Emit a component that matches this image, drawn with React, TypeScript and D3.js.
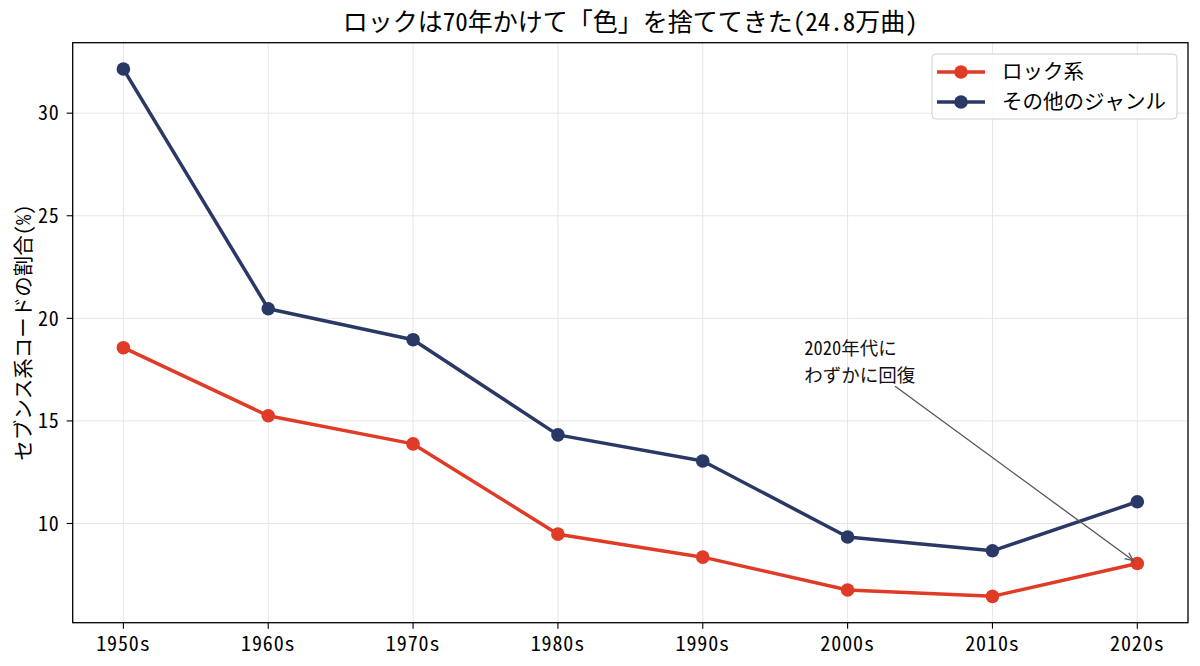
import { useEffect, useRef } from 'react';
import * as d3 from 'd3';

const decades = ['1950s', '1960s', '1970s', '1980s', '1990s', '2000s', '2010s', '2020s'];
const rockShare = [18.57, 15.25, 13.88, 9.48, 8.36, 6.76, 6.45, 8.05];
const otherShare = [32.15, 20.47, 18.96, 14.32, 13.05, 9.34, 8.67, 11.06];
const yTicks = [10, 15, 20, 25, 30];
const seriesNames = ['ロック系', 'その他のジャンル'];
const seriesColors = ['#e03b26', '#2a3866'];
const titleText = 'ロックは70年かけて「色」を捨ててきた(24.8万曲)';
const yLabel = 'セブンス系コードの割合(%)';
const noteLines = ['2020年代に', 'わずかに回復'];
// annotate: text at (4.7, 17), arrow to the rock value of the 2020s
const noteAt = { x: 4.7, y: 17 };
const noteTarget = { x: 7, y: rockShare[7] };

const FONT = "'Noto Sans Mono CJK JP', 'Noto Sans CJK JP', 'DejaVu Sans Mono', monospace";

export default function App() {
  const svgRef = useRef<SVGSVGElement>(null);

  useEffect(() => {
    if (!svgRef.current) return;
    const svg = d3.select(svgRef.current);
    svg.selectAll('*').remove();

    const width = 1200;
    const height = 666;
    const margin = { top: 42.7, right: 12, bottom: 43.3, left: 72.7 };
    const x0 = margin.left;
    const x1 = width - margin.right;
    const y0 = margin.top;
    const y1 = height - margin.bottom;

    svg.attr('width', width).attr('height', height);
    svg.append('rect').attr('width', width).attr('height', height).attr('fill', 'white');

    // matplotlib-like 5% margins
    const n = decades.length;
    const xScale = d3.scaleLinear().domain([-0.35, n - 1 + 0.35]).range([x0, x1]);
    const all = [...rockShare, ...otherShare];
    const lo = d3.min(all)!;
    const hi = d3.max(all)!;
    const pad = (hi - lo) * 0.05;
    const yScale = d3.scaleLinear().domain([lo - pad, hi + pad]).range([y1, y0]);

    // grid
    const grid = svg.append('g').attr('stroke', '#e6e6e6').attr('stroke-width', 1);
    decades.forEach((_, i) => {
      grid.append('line')
        .attr('x1', xScale(i)).attr('x2', xScale(i))
        .attr('y1', y0).attr('y2', y1);
    });
    yTicks.forEach(t => {
      grid.append('line')
        .attr('x1', x0).attr('x2', x1)
        .attr('y1', yScale(t)).attr('y2', yScale(t));
    });

    // series
    const line = d3.line<number>()
      .x((_, i) => xScale(i))
      .y(d => yScale(d));

    [rockShare, otherShare].forEach((vals, k) => {
      svg.append('path')
        .datum(vals)
        .attr('fill', 'none')
        .attr('stroke', seriesColors[k])
        .attr('stroke-width', 3.5)
        .attr('stroke-linejoin', 'round')
        .attr('d', line);
      svg.append('g')
        .selectAll('circle')
        .data(vals)
        .enter()
        .append('circle')
        .attr('cx', (_, i) => xScale(i))
        .attr('cy', d => yScale(d))
        .attr('r', 6.8)
        .attr('fill', seriesColors[k]);
    });

    // frame
    svg.append('rect')
      .attr('x', x0).attr('y', y0)
      .attr('width', x1 - x0).attr('height', y1 - y0)
      .attr('fill', 'none')
      .attr('stroke', '#000')
      .attr('stroke-width', 1.3);

    // x axis
    const xAxis = svg.append('g').attr('font-family', FONT).attr('font-size', 20).attr('letter-spacing', 0.9);
    decades.forEach((d, i) => {
      xAxis.append('line')
        .attr('x1', xScale(i)).attr('x2', xScale(i))
        .attr('y1', y1).attr('y2', y1 + 6)
        .attr('stroke', '#000').attr('stroke-width', 1.1);
      xAxis.append('text')
        .attr('x', xScale(i)).attr('y', y1 + 28)
        .attr('text-anchor', 'middle')
        .attr('fill', '#000')
        .text(d);
    });

    // y axis
    const yAxis = svg.append('g').attr('font-family', FONT).attr('font-size', 20).attr('letter-spacing', 0.9);
    yTicks.forEach(t => {
      yAxis.append('line')
        .attr('x1', x0 - 6).attr('x2', x0)
        .attr('y1', yScale(t)).attr('y2', yScale(t))
        .attr('stroke', '#000').attr('stroke-width', 1.1);
      yAxis.append('text')
        .attr('x', x0 - 13).attr('y', yScale(t))
        .attr('dy', '0.36em')
        .attr('text-anchor', 'end')
        .attr('fill', '#000')
        .text(t);
    });

    svg.append('text')
      .attr('transform', `translate(31,${(y0 + y1) / 2}) rotate(-90)`)
      .attr('text-anchor', 'middle')
      .attr('font-family', FONT)
      .attr('font-size', 20.5)
      .attr('fill', '#000')
      .text(yLabel);

    // title
    svg.append('text')
      .attr('x', (x0 + x1) / 2).attr('y', 31)
      .attr('text-anchor', 'middle')
      .attr('font-family', FONT)
      .attr('font-size', 25)
      .attr('fill', '#000')
      .text(titleText);

    // annotation, one text per line
    const lh = 27;
    const bx = xScale(noteAt.x);
    const by = yScale(noteAt.y) + 2;
    const noteGroup = svg.append('g');
    noteLines.forEach((s, i) => {
      noteGroup.append('text')
        .attr('x', bx)
        .attr('y', by - (noteLines.length - 1 - i) * lh)
        .attr('font-family', FONT)
        .attr('font-size', 18.5)
        .attr('fill', '#111')
        .text(s);
    });
    const bb = (noteGroup.node() as SVGGElement).getBBox();
    const cx = bb.x + bb.width / 2;
    const cy = bb.y + bb.height / 2;
    const tx = xScale(noteTarget.x);
    const ty = yScale(noteTarget.y);
    const dx = tx - cx;
    const dy = ty - cy;
    const len = Math.hypot(dx, dy);
    const ux = dx / len;
    const uy = dy / len;
    // leave the text box along the line
    const tExit = Math.min((bb.height / 2) / Math.abs(uy), (bb.width / 2) / Math.abs(ux)) - 1;
    const sx = cx + ux * tExit;
    const sy = cy + uy * tExit;
    const ex = tx - ux * 5;
    const ey = ty - uy * 5;
    const arrow = svg.append('g').attr('stroke', '#555').attr('stroke-width', 1.3).attr('fill', 'none');
    arrow.append('line').attr('x1', sx).attr('y1', sy).attr('x2', ex).attr('y2', ey);
    const head = 9;
    const ang = Math.atan2(uy, ux);
    const spread = 0.42;
    arrow.append('path')
      .attr('d', `M${ex - head * Math.cos(ang - spread)},${ey - head * Math.sin(ang - spread)}L${ex},${ey}L${ex - head * Math.cos(ang + spread)},${ey - head * Math.sin(ang + spread)}`);

    // legend
    const lg = svg.append('g');
    lg.append('rect')
      .attr('x', 932).attr('y', 54)
      .attr('width', 245).attr('height', 65)
      .attr('rx', 4)
      .attr('fill', 'white').attr('fill-opacity', 0.85)
      .attr('stroke', '#d0d0d0').attr('stroke-width', 1);
    seriesNames.forEach((name, k) => {
      const ry = 72 + k * 30;
      lg.append('line')
        .attr('x1', 937).attr('x2', 985)
        .attr('y1', ry).attr('y2', ry)
        .attr('stroke', seriesColors[k]).attr('stroke-width', 3.5);
      lg.append('circle')
        .attr('cx', 961).attr('cy', ry).attr('r', 6.8)
        .attr('fill', seriesColors[k]);
      lg.append('text')
        .attr('x', 1002).attr('y', ry)
        .attr('dy', '0.36em')
        .attr('font-family', FONT)
        .attr('font-size', 20.5)
        .attr('fill', '#000')
        .text(name);
    });
  }, []);

  return (
    <svg ref={svgRef} style={{ display: 'block', position: 'absolute', left: 0, top: 0 }}></svg>
  );
}
